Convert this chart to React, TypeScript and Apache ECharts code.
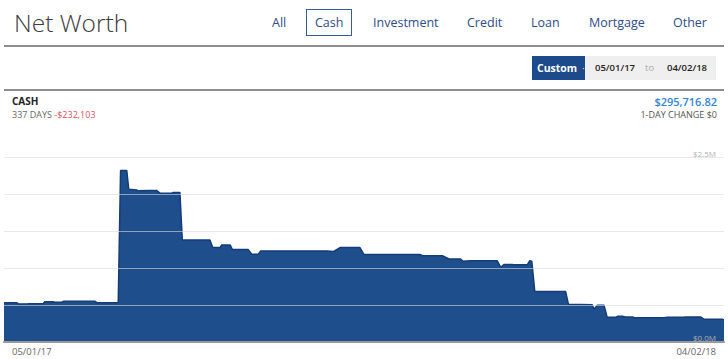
import React, { useEffect, useRef } from "react";
import * as echarts from "echarts";

const tabs = ["All", "Cash", "Investment", "Credit", "Loan", "Mortgage", "Other"];
const tabLeft = [272, 315, 373, 467, 531, 589, 673];
const xTickLabels = ["05/01/17", "04/02/18"];
const yTickLabels = ["$0.0M", "$2.5M"];
const totalDays = 336;

// [day offset from 05/01/17, cash value]
const cashDays = [
  0, 5.9, 6.7, 11.3, 18.3, 19, 23, 23.8, 27, 27.7, 42.5, 43.3, 53.3, 54.4, 57.3, 58.2, 61.9, 62.7,
  67.4, 71.3, 72.8, 78.3, 79, 82.1, 83.2, 96.1, 97.4, 100.8, 101.6, 105.5, 106.6, 114, 115.6, 118.7,
  119.8, 150.6, 153.7, 156.8, 166.1, 168, 194.4, 195.2, 204.5, 207.7, 213.1, 214.2, 217.8, 230.2,
  231.8, 233.3, 237.2, 238, 244.2, 245.3, 246.3, 247.7, 262.1, 263.4, 274.5, 275.3, 276.9, 280,
  281.5, 285.4, 286.5, 288.5, 290.1, 293.2, 294.3, 308, 309.5, 317.3, 318.1, 325.1, 326.7, 335.2, 336,
];
const cashValues = [
  528000, 528000, 511000, 512000, 515000, 542000, 540000, 535000, 535000, 547000, 547000, 528000,
  528000, 2317000, 2317000, 2065000, 2055000, 2042000, 2045000, 2045000, 2010000, 2010000, 2020000,
  2020000, 1378000, 1378000, 1274000, 1274000, 1310000, 1310000, 1247000, 1247000, 1184000, 1184000,
  1229000, 1229000, 1220000, 1274000, 1274000, 1179000, 1179000, 1165000, 1165000, 1120000, 1120000,
  1089000, 1095000, 1095000, 1008000, 1045000, 1045000, 1040000, 1040000, 1095000, 1090000, 678000,
  678000, 506000, 500000, 439000, 495000, 495000, 330000, 330000, 345000, 345000, 335000, 335000,
  325000, 325000, 330000, 330000, 335000, 335000, 303000, 303000, 295716.82,
];

const font = "'Open Sans', 'Noto Sans', sans-serif";

export default function App() {
  const ref = useRef<HTMLDivElement>(null);

  useEffect(() => {
    document.body.style.margin = "0";
    if (!ref.current) return;
    const chart = echarts.init(ref.current, undefined, { renderer: "svg" });
    const data = cashDays.map((d, i) => [d, cashValues[i]]);
    chart.setOption({
      animation: false,
      grid: { left: 4, right: 4, top: 157, bottom: 17.3 },
      xAxis: {
        type: "value",
        min: 0,
        max: totalDays,
        interval: totalDays,
        z: 5,
        axisLine: { show: true, onZero: false, lineStyle: { color: "#9a9a9a", width: 2 } },
        axisTick: { show: false },
        splitLine: { show: false },
        axisLabel: {
          margin: 5,
          fontFamily: font,
          fontSize: 9.5,
          color: "#666",
          padding: [0, 8, 0, 8],
          alignMinLabel: "left",
          alignMaxLabel: "right",
          formatter: (v: number) => (v === 0 ? xTickLabels[0] : xTickLabels[1]),
        },
      },
      yAxis: {
        type: "value",
        position: "right",
        min: 0,
        max: 2500000,
        interval: 500000,
        z: 5,
        axisLine: { show: false },
        axisTick: { show: false },
        splitLine: { show: true, lineStyle: { color: "rgba(218,218,218,0.6)", width: 1 } },
        axisLabel: {
          inside: true,
          margin: 8,
          fontFamily: font,
          fontSize: 8,
          lineHeight: 8,
          color: "#b0b0b0",
          verticalAlign: "bottom",
          formatter: (v: number) => (v === 0 ? yTickLabels[0] : v === 2500000 ? yTickLabels[1] : ""),
        },
      },
      series: [
        {
          type: "line",
          data,
          symbol: "none",
          z: 2,
          lineStyle: { color: "#143c78", width: 1.5 },
          areaStyle: { color: "#1f4e8c", opacity: 1 },
        },
      ],
    });
    return () => chart.dispose();
  }, []);

  return (
    <div style={{ position: "absolute", left: 0, top: 0, width: 728, height: 359, background: "#fff", fontFamily: font, overflow: "hidden" }}>
      <div ref={ref} style={{ position: "absolute", left: 0, top: 0, width: 728, height: 359 }} />
      <div style={{ position: "absolute", left: 14, top: 8, fontSize: 24.5, fontWeight: 300, lineHeight: "30px", color: "#3a3a3a", whiteSpace: "nowrap" }}>
        Net Worth
      </div>
      {tabs.map((t, i) => (
        <div key={t} style={{ position: "absolute", left: tabLeft[i], top: 13, fontSize: 12.5, lineHeight: "20px", color: "#2c4d88", whiteSpace: "nowrap" }}>
          {t}
        </div>
      ))}
      <div style={{ position: "absolute", left: 306, top: 9, width: 44, height: 25, border: "1px solid #3b5b96" }} />
      <div style={{ position: "absolute", left: 4, top: 45, width: 720, height: 2, background: "#8e8e8e" }} />
      <div style={{ position: "absolute", left: 532, top: 56, width: 53, height: 24, background: "#1d4a8a", color: "#fff", fontSize: 10.5, fontWeight: 700, lineHeight: "24px", whiteSpace: "nowrap" }}>
        <span style={{ marginLeft: 5 }}>Custom</span>
        <span style={{ marginLeft: 5, fontWeight: 400, fontSize: 9 }}>·</span>
      </div>
      <div style={{ position: "absolute", left: 585, top: 56, width: 131, height: 24, background: "#efefef", fontSize: 9.5, lineHeight: "24px", whiteSpace: "nowrap" }}>
        <span style={{ position: "absolute", left: 10, fontWeight: 600, color: "#222" }}>05/01/17</span>
        <span style={{ position: "absolute", left: 60, color: "#aaa" }}>to</span>
        <span style={{ position: "absolute", left: 82, fontWeight: 600, color: "#222" }}>04/02/18</span>
      </div>
      <div style={{ position: "absolute", left: 4, top: 89, width: 720, height: 2, background: "#8e8e8e" }} />
      <div style={{ position: "absolute", left: 12, top: 96, fontSize: 10, fontWeight: 700, lineHeight: "11px", color: "#222" }}>CASH</div>
      <div style={{ position: "absolute", left: 12, top: 109.5, fontSize: 9, lineHeight: "10px", color: "#666", whiteSpace: "nowrap" }}>
        337 DAYS <span style={{ color: "#d9555f" }}>-$232,103</span>
      </div>
      <div style={{ position: "absolute", right: 11, top: 96, fontSize: 11, fontWeight: 600, lineHeight: "11px", color: "#3484d6", whiteSpace: "nowrap" }}>
        $295,716.82
      </div>
      <div style={{ position: "absolute", right: 11, top: 109.5, fontSize: 9, lineHeight: "10px", color: "#555", whiteSpace: "nowrap" }}>
        1-DAY CHANGE $0
      </div>
    </div>
  );
}
